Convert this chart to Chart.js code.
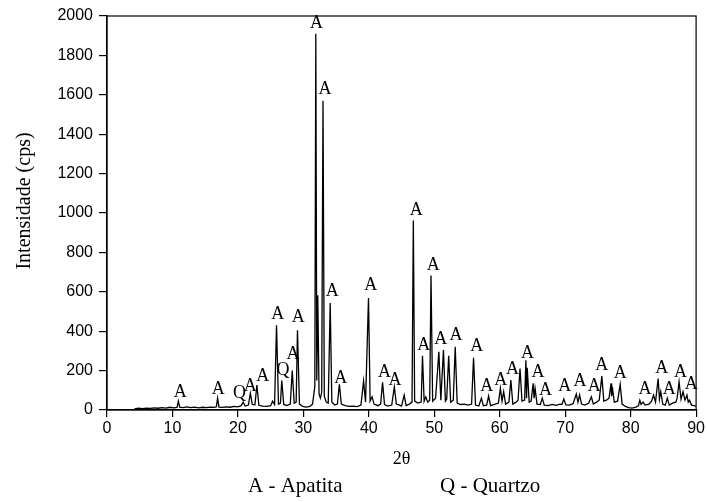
<!DOCTYPE html>
<html>
<head>
<meta charset="utf-8">
<script src="https://cdn.jsdelivr.net/npm/chart.js@4.4.0/dist/chart.umd.min.js"></script>
<style>
  body { margin: 0; background: #fff; }
  #wrap { width: 707px; height: 502px; }
</style>
</head>
<body>
<div id="wrap"><canvas id="xrd-chart"></canvas></div>
<script>
// diffractogram (2theta in degrees, counts in cps)
const twoTheta = [
  4.2, 4.8, 5.4, 6.0, 6.6, 7.2, 7.8, 8.4, 9.0, 9.6, 10.2, 10.7, 10.9, 11.1, 11.6, 12.2, 12.8, 13.4, 14.0, 14.6,
  15.2, 15.8, 16.4, 16.7, 16.9, 17.1, 17.6, 18.2, 18.8, 19.4, 20.0, 20.5, 20.8, 21.1, 21.6, 21.9, 22.2, 22.6, 22.9, 23.2,
  23.8, 24.4, 25.0, 25.3, 25.6, 25.9, 26.2, 26.5, 26.7, 27.0, 27.5, 28.0, 28.3, 28.6, 28.9, 29.1, 29.4, 29.9, 30.4, 31.0,
  31.4, 31.75, 31.9, 32.05, 32.2, 32.4, 32.6, 32.8, 33.0, 33.2, 33.5, 33.8, 34.1, 34.35, 34.8, 35.2, 35.5, 35.8, 36.4, 37.0,
  37.6, 38.2, 38.8, 39.2, 39.5, 39.95, 40.2, 40.5, 40.8, 41.4, 41.8, 42.1, 42.4, 42.9, 43.5, 43.9, 44.2, 44.7, 45.0, 45.4,
  45.7, 46.2, 46.6, 46.8, 47.0, 47.5, 48.0, 48.2, 48.45, 48.7, 49.0, 49.3, 49.5, 49.75, 50.2, 50.7, 51.0, 51.4, 51.7, 51.9,
  52.2, 52.5, 52.9, 53.2, 53.5, 54.0, 54.6, 55.2, 55.7, 56.0, 56.3, 56.8, 57.2, 57.5, 58.0, 58.3, 58.6, 59.2, 59.8, 60.1,
  60.35, 60.6, 60.9, 61.4, 61.7, 62.0, 62.5, 62.8, 63.1, 63.4, 63.8, 64.0, 64.1, 64.2, 64.5, 64.8, 65.1, 65.25, 65.4, 65.7,
  66.2, 66.5, 66.8, 67.4, 68.0, 68.6, 69.2, 69.5, 69.8, 70.1, 70.6, 71.2, 71.7, 71.95, 72.2, 72.5, 73.0, 73.6, 74.0, 74.3,
  74.8, 75.2, 75.6, 75.9, 76.3, 76.7, 77.0, 77.1, 77.2, 77.5, 78.0, 78.4, 78.7, 79.2, 79.7, 80.2, 80.8, 81.2, 81.4, 81.6,
  81.9, 82.2, 82.8, 83.2, 83.5, 83.8, 84.2, 84.4, 84.6, 84.9, 85.3, 85.6, 85.9, 86.4, 86.9, 87.1, 87.4, 87.7, 88.0, 88.3,
  88.6, 88.8, 89.0, 89.3, 89.7, 90.0
];
const counts = [
  6, 9, 7, 10, 8, 11, 9, 12, 10, 14, 11, 13, 45, 14, 12, 16, 12, 15, 11, 14,
  12, 15, 13, 16, 60, 15, 13, 16, 14, 18, 16, 22, 40, 20, 25, 85, 28, 26, 127, 24,
  20, 18, 22, 45, 28, 430, 30, 35, 150, 28, 22, 30, 200, 35, 40, 405, 30, 18, 15, 18,
  30, 120, 1910, 150, 582, 80, 60, 90, 1570, 70, 40, 35, 543, 40, 25, 30, 130, 30, 22, 18,
  20, 17, 25, 147, 40, 569, 45, 67, 30, 22, 30, 140, 28, 20, 25, 118, 30, 25, 20, 76,
  22, 30, 40, 962, 45, 35, 40, 275, 45, 67, 40, 50, 683, 45, 60, 295, 50, 304, 45, 55,
  275, 40, 50, 321, 35, 28, 30, 25, 30, 265, 25, 20, 60, 22, 25, 71, 22, 28, 35, 110,
  45, 93, 30, 40, 152, 30, 40, 50, 211, 45, 50, 253, 60, 214, 40, 45, 135, 60, 110, 30,
  28, 60, 25, 22, 28, 24, 30, 28, 56, 26, 25, 32, 81, 40, 76, 30, 25, 35, 67, 30,
  40, 50, 172, 45, 50, 60, 135, 70, 118, 40, 45, 130, 30, 18, 12, 10, 15, 22, 50, 28,
  40, 25, 30, 45, 76, 40, 160, 55, 93, 30, 25, 60, 25, 35, 40, 60, 143, 55, 93, 50,
  76, 40, 50, 25, 22, 20
];

// phase marks above the peaks
const markText = [
  'A', 'A', 'Q', 'A', 'A', 'A', 'Q', 'A', 'A', 'A', 'A', 'A', 'A', 'A', 'A', 'A', 'A', 'A', 'A',
  'A', 'A', 'A', 'A', 'A', 'A', 'A', 'A', 'A', 'A', 'A', 'A', 'A', 'A', 'A', 'A', 'A', 'A', 'A'
];
const markTheta = [
  11.2, 17.0, 20.25, 21.9, 23.8, 26.1, 26.9, 28.4, 29.2, 32.0, 33.3, 34.4, 35.7, 40.3, 42.4, 44.0, 47.25, 48.4, 49.85,
  51.0, 53.3, 56.5, 58.0, 60.15, 61.95, 64.25, 65.85, 67.0, 69.95, 72.25, 74.45, 75.6, 78.4, 82.2, 84.75, 85.9, 87.6, 89.25
];
const markCounts = [
  98, 110, 93, 127, 177, 490, 206, 287, 476, 1971, 1634, 608, 169, 642, 200, 158, 1021, 333, 743,
  363, 385, 329, 127, 157, 211, 295, 199, 106, 127, 152, 127, 236, 194, 110, 219, 110, 197, 135
];

const yTitle = 'Intensidade (cps)';
const phaseNotes = ['A - Apatita', 'Q - Quartzo'];

const serif = '"Liberation Serif", "Times New Roman", serif';
const sans = '"Liberation Sans", Arial, sans-serif';

const extras = {
  id: 'extras',
  afterDraw(chart) {
    const { ctx, chartArea, scales } = chart;
    ctx.save();
    // box round the plot
    ctx.strokeStyle = '#000';
    ctx.lineWidth = 1.2;
    ctx.strokeRect(chartArea.left, chartArea.top, chartArea.right - chartArea.left, chartArea.bottom - chartArea.top);

    // peak marks
    ctx.fillStyle = '#000';
    ctx.font = '18px ' + serif;
    ctx.textAlign = 'center';
    ctx.textBaseline = 'alphabetic';
    markText.forEach((t, i) => {
      const x = scales.x.getPixelForValue(markTheta[i]);
      const y = scales.y.getPixelForValue(markCounts[i]);
      ctx.fillText(t, x, y + 6);
    });

    // y title, a bit above the middle like the original
    ctx.font = '20px ' + serif;
    ctx.translate(30, 201);
    ctx.rotate(-Math.PI / 2);
    ctx.fillText(yTitle, 0, 0);
    ctx.restore();

    ctx.save();
    ctx.fillStyle = '#000';
    ctx.font = '21px ' + serif;
    ctx.textAlign = 'left';
    ctx.fillText(phaseNotes[0], 248, 492);
    ctx.fillText(phaseNotes[1], 440, 492);
    ctx.restore();
  }
};

new Chart(document.querySelector('#xrd-chart').getContext('2d'), {
  type: 'line',
  data: {
    datasets: [{
      data: twoTheta.map((t, i) => ({ x: t, y: counts[i] })),
      borderColor: '#000',
      borderWidth: 1.3,
      pointRadius: 0,
      tension: 0,
      fill: false
    }]
  },
  options: {
    responsive: true,
    maintainAspectRatio: false,
    animation: false,
    layout: { padding: { top: 16, right: 10, bottom: 30, left: 0 } },
    plugins: { legend: { display: false }, tooltip: { enabled: false } },
    scales: {
      x: {
        type: 'linear',
        min: 0,
        max: 90,
        afterFit: s => { s.height = 62; },
        ticks: { stepSize: 10, color: '#000', font: { family: sans, size: 16 }, padding: 2, maxRotation: 0,
          callback: v => String(v) },
        grid: { drawOnChartArea: false, color: '#000', tickLength: 7, lineWidth: 1.2 },
        border: { color: '#000', width: 1.3 },
        title: { display: true, text: '2θ', color: '#000', font: { family: serif, size: 18 }, padding: { top: 0, bottom: 2 } }
      },
      y: {
        min: 0,
        max: 2000,
        afterFit: s => { s.width = 107; },
        ticks: { stepSize: 200, color: '#000', font: { family: sans, size: 16 }, padding: 6,
          callback: v => String(v) },
        grid: { drawOnChartArea: false, color: '#000', tickLength: 8, lineWidth: 1.2 },
        border: { color: '#000', width: 1.3 }
      }
    }
  },
  plugins: [extras]
});
</script>
</body>
</html>
